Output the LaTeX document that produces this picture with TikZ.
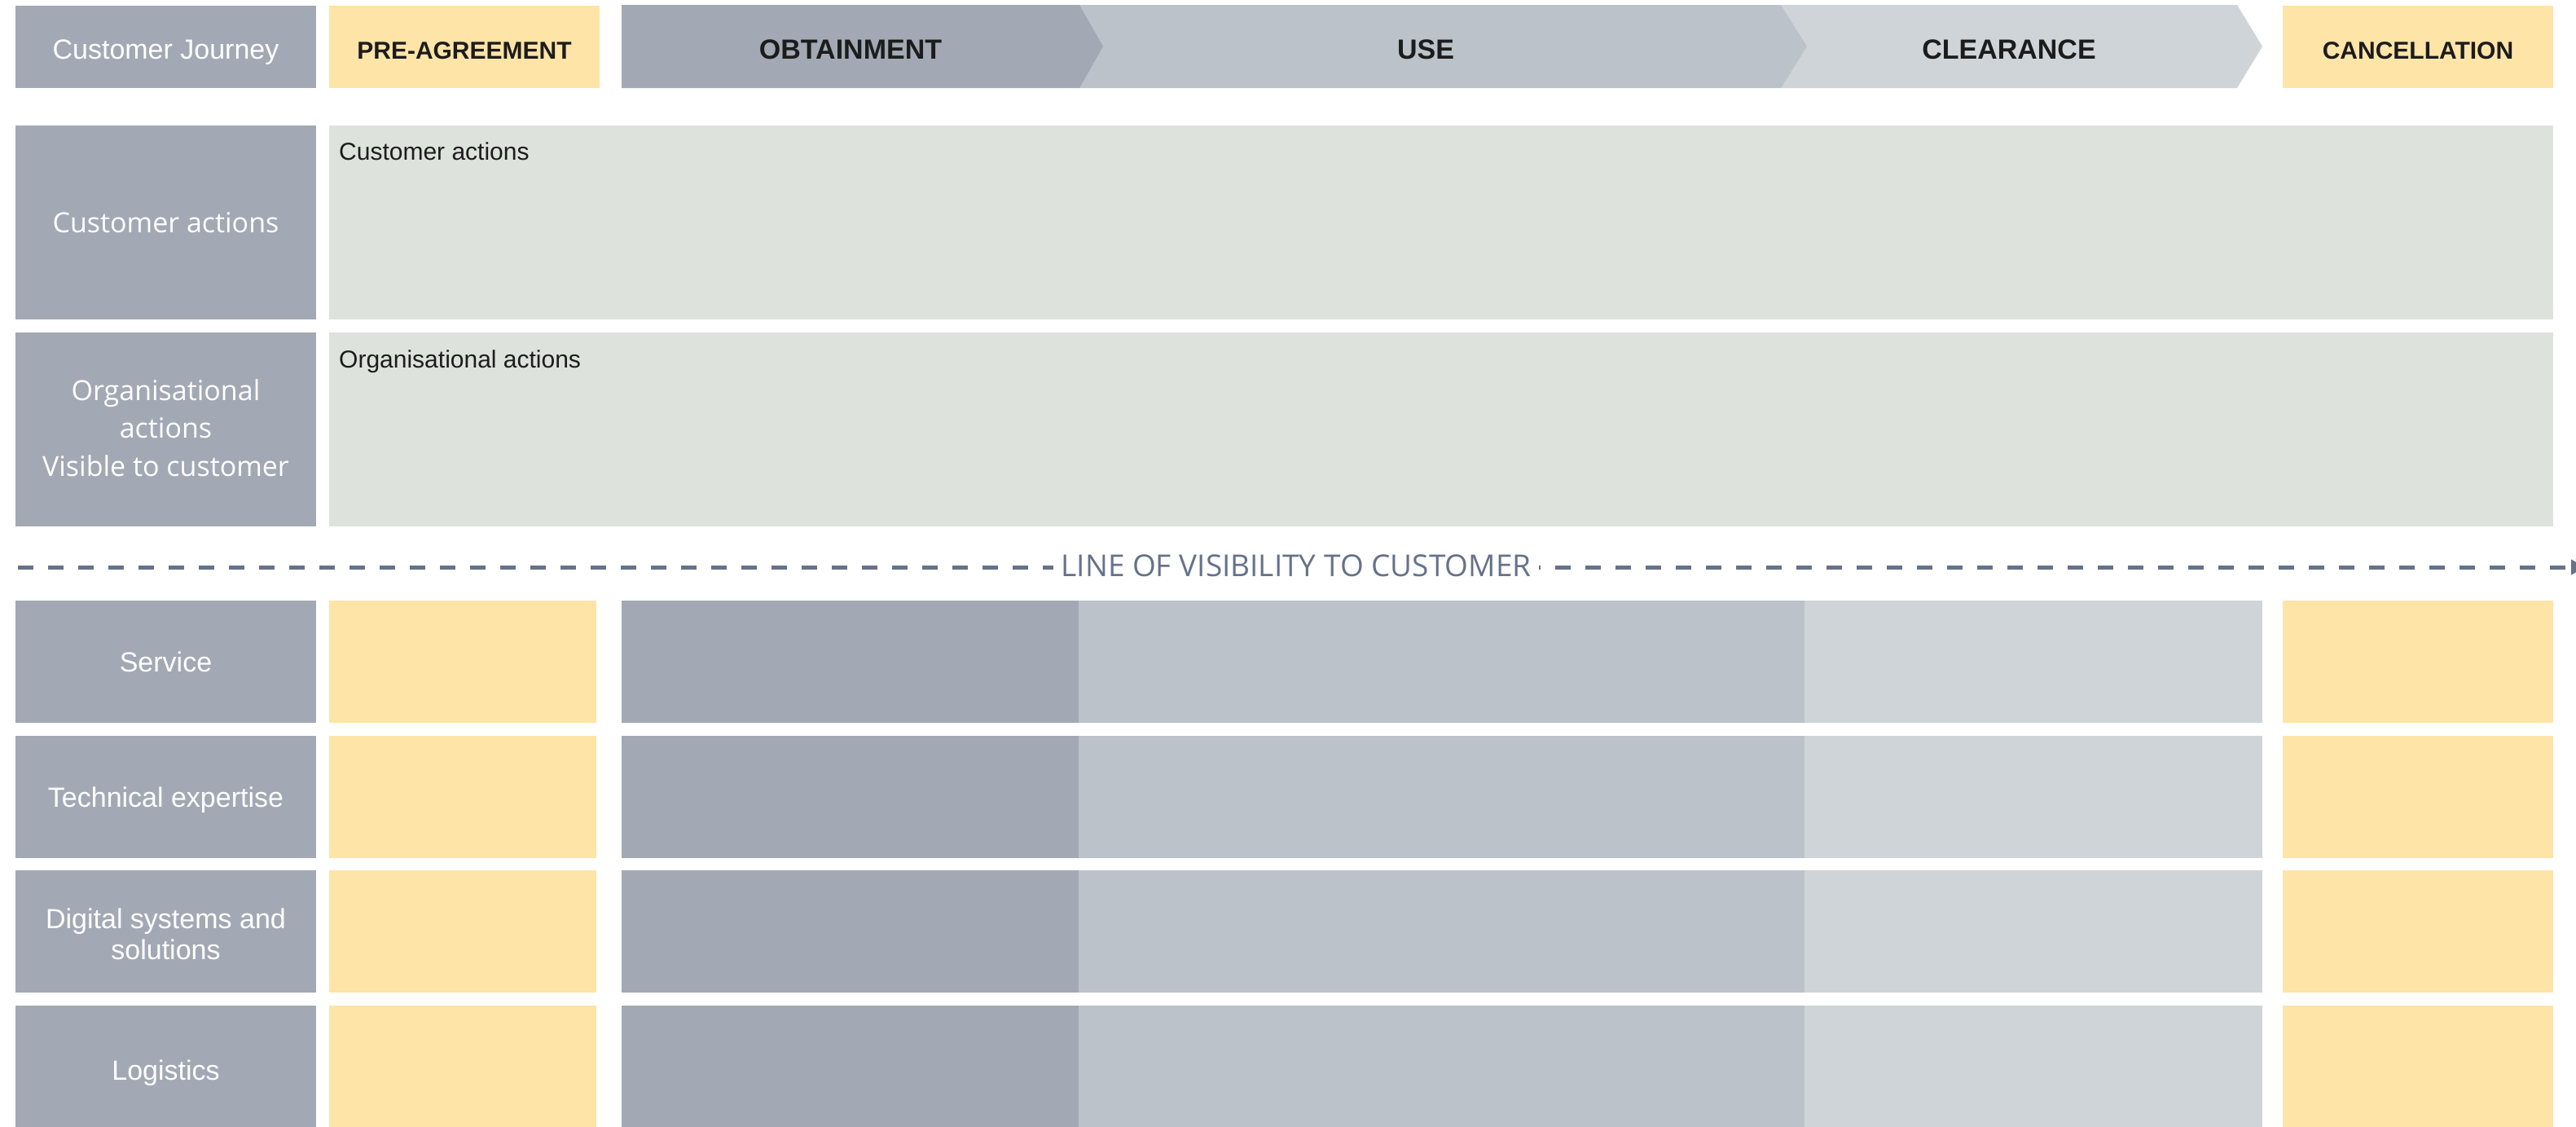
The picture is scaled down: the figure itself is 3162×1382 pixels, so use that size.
\documentclass[tikz,border=0pt]{standalone}
\usepackage{fontspec}
\setmainfont{Liberation Sans}
\newfontfamily\opensans{Open Sans}
\usetikzlibrary{arrows.meta}
\definecolor{labgrey}{HTML}{A2A9B4}
\definecolor{yelc}{HTML}{FFE4A8}
\definecolor{greenc}{HTML}{DDE3DC}
\definecolor{darkph}{HTML}{A2A9B4}
\definecolor{midph}{HTML}{BBC2CA}
\definecolor{lightph}{HTML}{CFD4D8}
\definecolor{linec}{HTML}{667289}
\definecolor{txtdark}{HTML}{1C1C1C}
\begin{document}
\begin{tikzpicture}[x=1pt,y=-1pt,
  cell/.style={anchor=north west, inner sep=0pt, outer sep=0pt, draw=none},
  sz/.style 2 args={minimum width=#1pt, minimum height=#2pt},
  lab/.style={cell, fill=labgrey, text=white, align=center, font=\fontsize{34}{38}\selectfont},
  labtxt/.style={inner sep=0pt, text=white, align=center, font=\fontsize{34}{38}\selectfont},
  capc/.style={text height=24.5pt, text depth=0pt},
  digshift/.style={yshift=-3pt},
  labos/.style={lab, font=\opensans\fontsize{34}{46.5}\selectfont},
  hdr/.style={cell, text height=30pt, text depth=0pt},
  phasetxt/.style={inner sep=0pt, text=txtdark, text height=30pt, text depth=0pt, font=\bfseries\fontsize{34}{40}\selectfont},
  yelhdr/.style={hdr, fill=yelc, text=txtdark, font=\bfseries\fontsize{30}{36}\selectfont},
  greenbox/.style={cell, fill=greenc},
  yelcell/.style={cell, fill=yelc},
  darkcell/.style={cell, fill=darkph},
  midcell/.style={cell, fill=midph},
  lightcell/.style={cell, fill=lightph},
  boxtext/.style={anchor=base west, inner sep=0pt, text=txtdark, font=\fontsize{30}{34}\selectfont},
  visline/.style={draw=linec, line width=5pt, dash pattern=on 19pt off 18pt, -{Triangle[length=17pt,width=18pt]}},
  vislabel/.style={fill=white, inner xsep=10pt, inner ysep=4pt, text=linec, font=\opensans\fontsize{37}{40}\selectfont}
]
\useasboundingbox (0,0) rectangle (3162,1382);
\fill[white] (0,0) rectangle (3162,1382);

% header
\node[hdr, fill=labgrey, text=white, font=\fontsize{34}{40}\selectfont, sz={369}{101}] (cj) at (19,7) {Customer Journey};
\node[yelhdr, sz={332}{101}] (pre) at (404,7) {PRE-AGREEMENT};
\fill[lightph] (2186,6) -- (2746,6) -- (2777,57) -- (2746,108) -- (2186,108) -- cycle;
\fill[midph] (1325,6) -- (2186,6) -- (2218,57) -- (2186,108) -- (1325,108) -- cycle;
\fill[darkph] (763,6) -- (1325,6) -- (1354,57) -- (1325,108) -- (763,108) -- cycle;
\node[phasetxt] (obt) at (1044,57.5) {OBTAINMENT};
\node[phasetxt] (use) at (1750,57.5) {USE};
\node[phasetxt] (clr) at (2466,57.5) {CLEARANCE};
\node[yelhdr, sz={332}{101}] (can) at (2802,7) {CANCELLATION};

% visible rows
\node[labos, sz={369}{238}] (lca) at (19,154) {Customer actions};
\node[greenbox, sz={2730}{238}] (gca) at (404,154) {};
\node[boxtext] (tca) at (416,196) {Customer actions};
\node[labos, sz={369}{238}] (lorg) at (19,408) {};
\node[labtxt, font=\opensans\fontsize{34}{46.5}\selectfont, yshift=2pt] (torgl) at (lorg.center) {Organisational\\actions\\Visible to customer};
\node[greenbox, sz={2730}{238}] (gorg) at (404,408) {};
\node[boxtext] (torg) at (416,451) {Organisational actions};

% line of visibility
\coordinate (vl) at (22,696);
\coordinate (vr) at (3173,696);
\draw[visline] (vl) -- (vr);
\node[vislabel] (vis) at (1591,694) {LINE OF VISIBILITY TO CUSTOMER};

% back-stage rows
\foreach \nm/\txt/\yy/\hh/\st in {srv/Service/737/150/capc, tec/Technical expertise/903/150/capc, dig/{Digital systems and\\solutions}/1068/150/digshift, log/Logistics/1234/158/capc}{
  \node[lab, sz={369}{\hh}] (l\nm) at (19,\yy) {};
  \node[labtxt, \st] (t\nm) at (l\nm.center) {\txt};
  \node[yelcell, sz={328}{\hh}] (a\nm) at (404,\yy) {};
  \node[darkcell, sz={561}{\hh}] (b\nm) at (763,\yy) {};
  \node[midcell, sz={891}{\hh}] (c\nm) at (1324,\yy) {};
  \node[lightcell, sz={562}{\hh}] (d\nm) at (2215,\yy) {};
  \node[yelcell, sz={332}{\hh}] (e\nm) at (2802,\yy) {};
}
\end{tikzpicture}
\end{document}
